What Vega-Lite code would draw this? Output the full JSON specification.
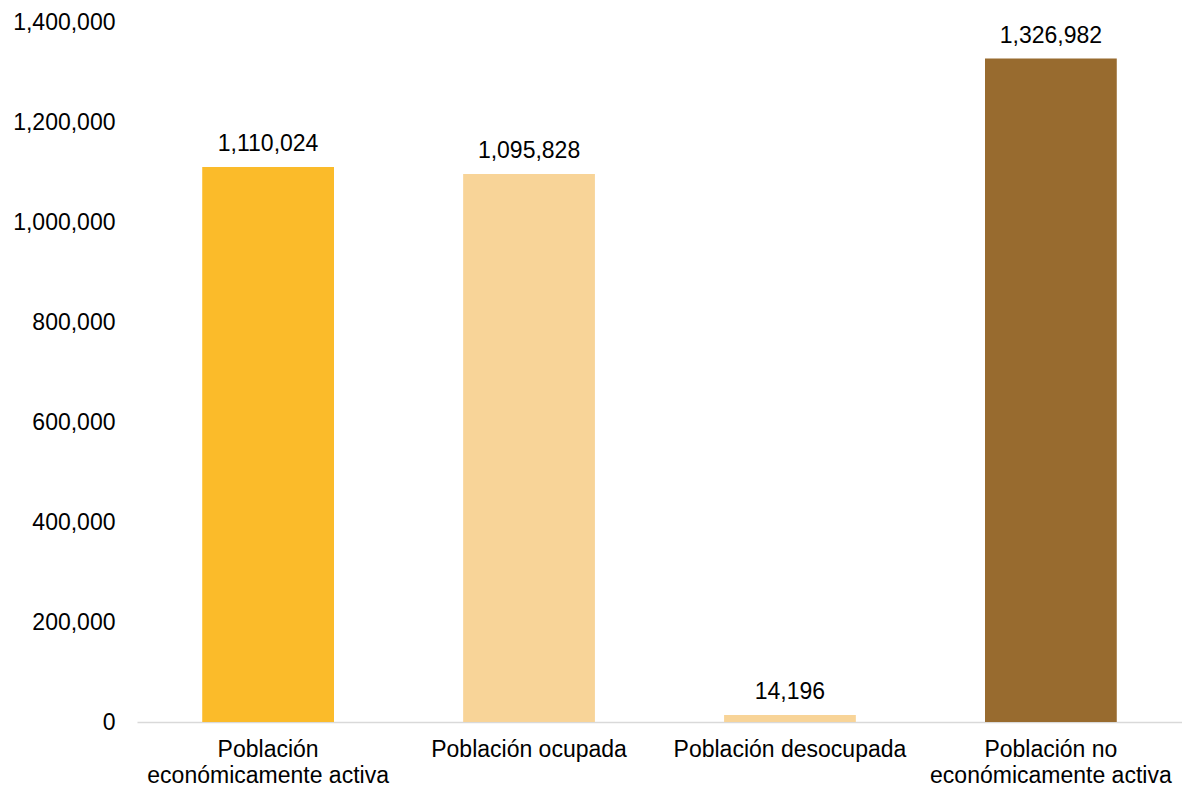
{
  "$schema": "https://vega.github.io/schema/vega-lite/v6.json",
  "autosize": "none",
  "width": 1045,
  "height": 700,
  "padding": {"left": 137, "top": 22, "right": 0, "bottom": 68},
  "background": "white",
  "config": {"view": {"stroke": null}, "font": "Liberation Sans"},
  "data": {"values": [
    {"cat": "Población económicamente activa", "value": 1110024, "color": "#FBBB2A"},
    {"cat": "Población ocupada", "value": 1095828, "color": "#F8D498"},
    {"cat": "Población desocupada", "value": 14196, "color": "#F8D498"},
    {"cat": "Población no económicamente activa", "value": 1326982, "color": "#986B2F"}
  ]},
  "encoding": {
    "x": {"field": "cat", "type": "nominal", "sort": null,
      "scale": {"paddingInner": 0.495, "paddingOuter": 0.25},
      "axis": {"title": null, "labelAngle": 0, "ticks": false, "domainColor": "#D9D9D9", "domainWidth": 1.5,
        "labelFont": "Liberation Sans", "labelFontSize": 23, "labelColor": "#000000", "labelPadding": 16, "labelLineHeight": 26, "labelLimit": 400,
        "labelExpr": "datum.value == 'Población económicamente activa' ? ['Población', 'económicamente activa'] : datum.value == 'Población no económicamente activa' ? ['Población no', 'económicamente activa'] : datum.value"}},
    "y": {"field": "value", "type": "quantitative",
      "scale": {"domain": [0, 1400000], "nice": false},
      "axis": {"title": null, "grid": false, "domain": false, "ticks": false, "values": [0,200000,400000,600000,800000,1000000,1200000,1400000],
        "format": ",d", "labelFont": "Liberation Sans", "labelFontSize": 23, "labelColor": "#000000", "labelPadding": 22}}
  },
  "layer": [
    {"mark": {"type": "bar"}, "encoding": {"color": {"field": "color", "type": "nominal", "scale": null}}},
    {"mark": {"type": "text", "baseline": "alphabetic", "dy": -16, "font": "Liberation Sans", "fontSize": 23, "color": "#000000"},
     "encoding": {"text": {"field": "value", "type": "quantitative", "format": ",d"}}}
  ]
}
